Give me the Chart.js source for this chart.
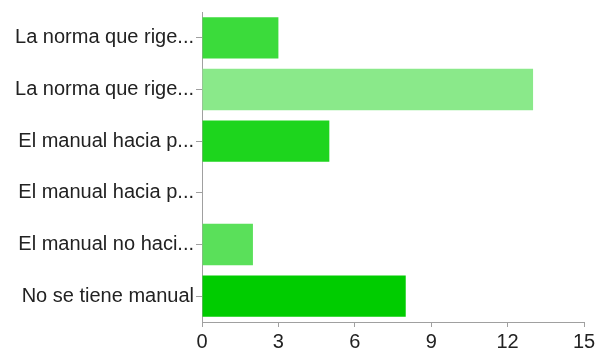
<!DOCTYPE html>
<html>
<head>
<meta charset="utf-8">
<script src="https://cdn.jsdelivr.net/npm/chart.js@4"></script>
<style>
  html, body { margin: 0; padding: 0; background: #fff; }
  #wrap { width: 599px; height: 351px; }
</style>
</head>
<body>
<div id="wrap"><canvas id="chart"></canvas></div>
<script>
const categories = [
  "La norma que rige...",
  "La norma que rige...",
  "El manual hacia p...",
  "El manual hacia p...",
  "El manual no haci...",
  "No se tiene manual"
];
const counts = [3, 13, 5, 0, 2, 8];
const barColors = ["#3bdb3b", "#8ae98a", "#1dd51d", "#3bdb3b", "#5ae05a", "#00cc00"];
const xTicks = [0, 3, 6, 9, 12, 15];

const axisGray = "#a0a0a0";
const font = { family: "Liberation Sans, Arial, sans-serif", size: 20 };

new Chart(document.getElementById("chart"), {
  type: "bar",
  data: {
    labels: categories,
    datasets: [{
      data: counts,
      backgroundColor: barColors,
      borderWidth: 0,
      barPercentage: 0.8,
      categoryPercentage: 1.0
    }]
  },
  options: {
    indexAxis: "y",
    responsive: true,
    maintainAspectRatio: false,
    animation: false,
    layout: { padding: { top: 12, right: 15, left: 0, bottom: 0 } },
    plugins: { legend: { display: false }, tooltip: { enabled: false } },
    scales: {
      x: {
        min: 0,
        max: 15,
        afterBuildTicks: (axis) => { axis.ticks = xTicks.map(v => ({ value: v })); },
        afterFit: (axis) => { axis.height = 29; },
        grid: { drawOnChartArea: false, tickLength: 5, color: axisGray },
        border: { color: axisGray },
        ticks: { color: "#222", font: font, padding: 3, maxRotation: 0 }
      },
      y: {
        afterFit: (axis) => {
          axis.width = 202;
          axis.paddingTop = 0;
          axis.paddingBottom = 0;
        },
        grid: { drawOnChartArea: false, tickLength: 6, color: axisGray, offset: false },
        border: { color: axisGray },
        ticks: { color: "#222", font: font, padding: 2 }
      }
    }
  }
});
</script>
</body>
</html>
